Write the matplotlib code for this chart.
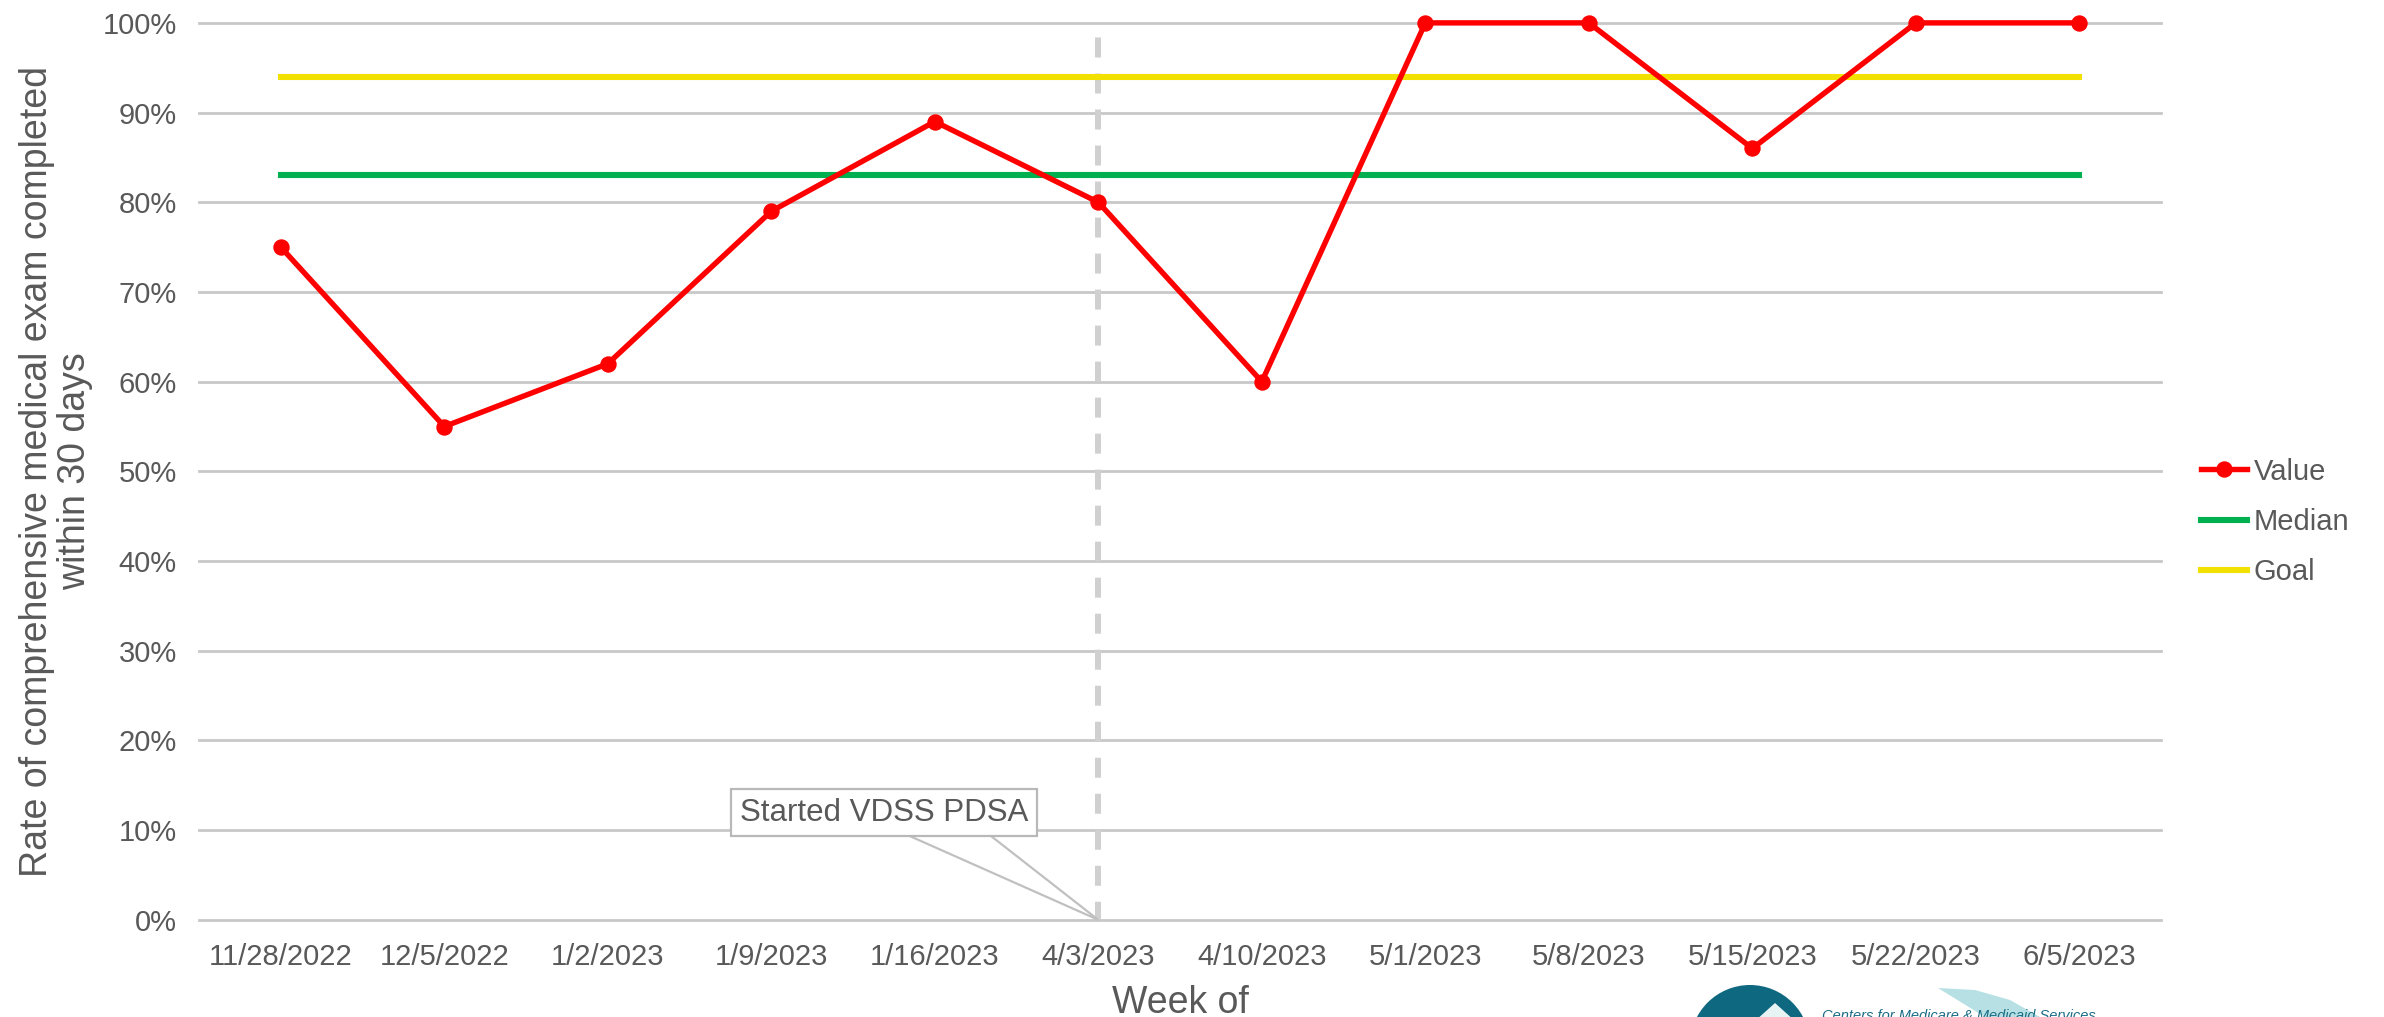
import numpy as np
import matplotlib.pyplot as plt
from matplotlib.patches import Circle, Polygon

weeks = ['11/28/2022', '12/5/2022', '1/2/2023', '1/9/2023', '1/16/2023', '4/3/2023',
         '4/10/2023', '5/1/2023', '5/8/2023', '5/15/2023', '5/22/2023', '6/5/2023']
values = [0.75, 0.55, 0.62, 0.79, 0.89, 0.80, 0.60, 1.00, 1.00, 0.86, 1.00, 1.00]
median = 0.83
goal = 0.94
pdsa_week = '4/3/2023'
pdsa_label = 'Started VDSS PDSA'

plt.rcParams['font.family'] = ['Liberation Sans', 'DejaVu Sans']
txt = '#595959'

fig = plt.figure(figsize=(23.84, 10.17), dpi=100)
ax = fig.add_axes([0.0835, 0.0955, 0.823, 0.882])

x = np.arange(len(weeks))
yt = np.arange(0, 1.01, 0.1)
for yv in yt:
    ax.axhline(yv, color='#c8c8c8', lw=2.0, zorder=0, clip_on=False)

ipd = weeks.index(pdsa_week)
ax.plot([ipd, ipd], [0, 0.985], color='#d0d0d0', lw=4.3, ls=(0.3, (3.35, 2.68)), zorder=1)

ax.plot(x, values, color='#ff0000', lw=3.9, marker='o', ms=10.8, label='Value',
        zorder=4, clip_on=False)
ax.plot(x, [median] * len(x), color='#00b050', lw=4.4, label='Median', zorder=3)
ax.plot(x, [goal] * len(x), color='#f2e100', lw=4.4, label='Goal', zorder=3)

# callout
ax.add_patch(Polygon([[3.84, 0.094], [4.34, 0.094], [ipd, 0.0]], closed=True,
                     facecolor='white', edgecolor='#c0c0c0', lw=1.6, zorder=5,
                     clip_on=False))
ax.text(3.69, 0.1195, pdsa_label, ha='center', va='center', fontsize=22.5, color=txt,
        zorder=6, bbox=dict(boxstyle='square,pad=0.28', fc='white', ec='#b8b8b8', lw=1.6))

ax.set_xlim(-0.5, len(weeks) - 0.5)
ax.set_ylim(0, 1)
ax.set_xticks(x)
ax.set_xticklabels(weeks)
ax.set_yticks(yt)
ax.set_yticklabels([f'{int(round(v * 100))}%' for v in yt])
ax.tick_params(length=0, labelsize=21, colors=txt)
ax.tick_params(axis='y', pad=16)
ax.tick_params(axis='x', pad=17)
for s in ax.spines.values():
    s.set_visible(False)

ax.set_xlabel('Week of', fontsize=27, color=txt, labelpad=10)
ax.set_ylabel('Rate of comprehensive medical exam completed\nwithin 30 days',
              fontsize=27, color=txt, labelpad=7, linespacing=1.05)

fig.legend(loc='center left', bbox_to_anchor=(0.9185, 0.487), frameon=False,
           fontsize=21, handlelength=1.55, handletextpad=0.25, labelspacing=0.76,
           labelcolor=txt, borderaxespad=0)

# partial logo at bottom edge
W, H = fig.get_size_inches() * fig.dpi
fig.patches.append(Circle((1750, H - 1045), 60, transform=None, facecolor='#0d6880',
                          edgecolor='none', zorder=10))
fig.patches.append(Polygon([[1745, H - 1030], [1775, H - 1003], [1805, H - 1030]],
                           closed=True, transform=None, facecolor='#e6f4f4',
                           edgecolor='none', zorder=11))
fig.patches.append(Polygon([[1938, H - 988], [1975, H - 990], [2010, H - 1000],
                            [2040, H - 1017], [1985, H - 1017]], closed=True,
                           transform=None, facecolor='#b6e0e4', edgecolor='none',
                           zorder=10))
fig.text(1822 / W, 1 - 1020 / H, 'Centers for Medicare & Medicaid Services',
         fontsize=10.5, style='italic', color='#1a6e86', ha='left', va='baseline',
         zorder=12)

fig.savefig('out.png', dpi=100)
